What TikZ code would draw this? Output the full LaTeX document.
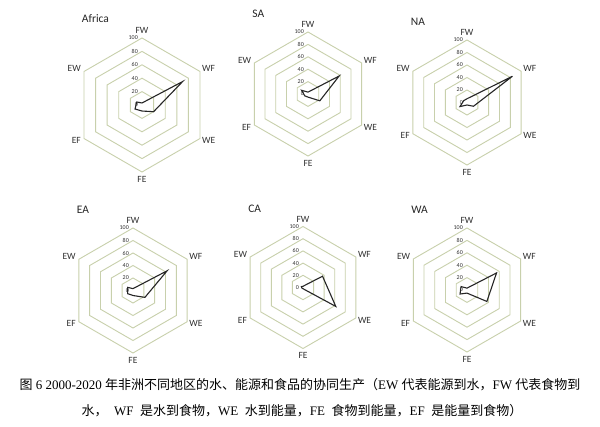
\documentclass[tikz,border=0pt]{standalone}
\usepackage{fontspec}
\setmainfont{Carlito}
\newfontfamily\capfont{Liberation Serif}
\newfontfamily\cjk{Noto Sans CJK SC}
\newcommand{\zh}[1]{{\cjk #1}}

\definecolor{ringgreen}{RGB}{200,208,172}
\definecolor{labgray}{RGB}{50,50,50}
\tikzset{
  ring/.style={draw=ringgreen, line width=0.9pt},
  series/.style={draw=black!85, line width=1.1pt, line join=miter},
  axislab/.style={font=\fontsize{9.5}{10}\selectfont, text=labgray, inner sep=0pt},
  tick/.style={font=\fontsize{6}{6}\selectfont, text=labgray, inner sep=0pt, anchor=east},
  charttitle/.style={font=\fontsize{11.5}{12}\selectfont, text=black!85, inner sep=0pt, anchor=west},
  caption/.style={font=\capfont\fontsize{13}{14}\selectfont, inner sep=0pt}
}

% #1 name, #2 x, #3 y, #4 radius, #5 FW,WF,WE,FE,EF,EW
\newcommand{\radar}[5]{%
  \begin{scope}[shift={(#2,#3)}, y=1pt]
    \foreach \k in {20,40,...,100} {
      \pgfmathsetmacro\rr{#4*\k/100}
      \draw[ring] (90:\rr) -- (30:\rr) -- (-30:\rr) -- (-90:\rr) -- (-150:\rr) -- (150:\rr) -- cycle;
    }
    \foreach \k in {0,20,...,100}
      \node[tick] (#1-t\k) at (-4,{#4*\k/100}) {\k};
    \node[axislab, anchor=south] (#1-FW) at (90:{#4+4}) {FW};
    \node[axislab, anchor=west, xshift=2pt, yshift=3pt] (#1-WF) at (30:#4) {WF};
    \node[axislab, anchor=west, xshift=2pt, yshift=-2pt] (#1-WE) at (-30:#4) {WE};
    \node[axislab, anchor=north] (#1-FE) at (-90:{#4+4}) {FE};
    \node[axislab, anchor=east, xshift=-3pt, yshift=-2pt] (#1-EF) at (-150:#4) {EF};
    \node[axislab, anchor=east, xshift=-3pt, yshift=3pt] (#1-EW) at (150:#4) {EW};
    \node[charttitle] (#1-title) at ({-0.9*#4},{1.29*#4}) {#1};
    \foreach \v [count=\i] in {#5} {
      \pgfmathsetmacro\ang{150-60*\i}
      \coordinate (#1-p\i) at (\ang:{#4*\v/100});
    }
    \draw[series] (#1-p1) -- (#1-p2) -- (#1-p3) -- (#1-p4) -- (#1-p5) -- (#1-p6) -- cycle;
  \end{scope}}

\begin{document}
\begin{tikzpicture}[x=1pt, y=-1pt]
  \fill[white] (0,0) rectangle (600,427);
  \useasboundingbox (0,0) rectangle (600,427);

  \radar{Africa}{142}{105}{67}{3,70,20,9,12,9}
  \radar{SA}{308}{94}{62}{3,58,22,5,6,12}
  \radar{NA}{467}{102.5}{62.5}{6,84,12,4,13,6}
  \radar{EA}{133}{290.5}{62.5}{3,63,22,8,10,10}
  \radar{CA}{303}{287.5}{61}{2,37,62,2,2,3}
  \radar{WA}{467}{290}{62}{3,55,37,5,13,11}

  \node[caption] (cap1) at (300,385) {\zh{图} 6 2000-2020 \zh{年非洲不同地区的水、能源和食品的协同生产（}EW \zh{代表能源到水，}FW \zh{代表食物到}};
  \node[caption] (cap2) at (302,411) {\zh{水，}\ \ WF \ \zh{是水到食物，}WE \ \zh{水到能量，}FE \ \zh{食物到能量，}EF \ \zh{是能量到食物）}};
\end{tikzpicture}
\end{document}
